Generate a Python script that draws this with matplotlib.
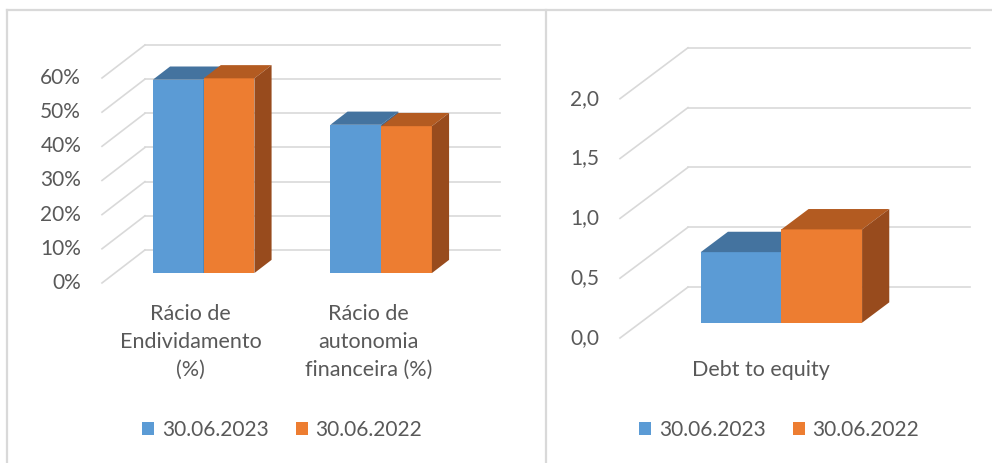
import matplotlib
matplotlib.use("Agg")
import matplotlib.pyplot as plt
from matplotlib.patches import Polygon, Patch
from matplotlib.lines import Line2D

plt.rcParams['font.family'] = ['Lato', 'DejaVu Sans']

# data
series_names = ["30.06.2023", "30.06.2022"]
cats_left = ["Rácio de\nEndividamento\n(%)", "Rácio de\nautonomia\nfinanceira (%)"]
left_2023 = [56.6, 43.4]
left_2022 = [57.0, 43.0]
ticks_left = [0, 10, 20, 30, 40, 50, 60]

cats_right = ["Debt to equity"]
right_2023 = [0.59]
right_2022 = [0.78]
ticks_right = [0.0, 0.5, 1.0, 1.5, 2.0]

front_cols = ["#5B9BD5", "#ED7D31"]
top_cols = ["#44739F", "#B35B21"]
side_cols = ["#3A6590", "#984B1D"]
grid_col = "#D9D9D9"
text_col = "#595959"
FS = 15


def draw_panel(ax, cats, series, ticks, fmt, dx, dy, lab_off):
    n = len(cats)
    # floor/back wall grid
    for v in ticks:
        ax.plot([0, dx], [v, v + dy], color=grid_col, lw=1.2, zorder=1)
        ax.plot([dx, n + dx], [v + dy, v + dy], color=grid_col, lw=1.2, zorder=1)
        ax.annotate(fmt(v), (0, v), xytext=(-15, 0), textcoords="offset points",
                    ha="right", va="center", fontsize=FS, color=text_col)
    w = 0.286
    fx, fy = 0.3 * dx, 0.3 * dy      # front of bars
    bx, by = 0.4 * dx, 0.4 * dy      # bar depth
    for i in range(n):
        for k, vals in enumerate(series):
            x0 = i + 0.5 - w + k * w + fx
            x1 = x0 + w
            h = vals[i]
            ax.bar(x0, h, width=w, bottom=fy, align="edge",
                   color=front_cols[k], lw=0, zorder=3 + k)
            top = fy + h
            ax.add_patch(Polygon([(x0, top), (x1, top), (x1 + bx, top + by), (x0 + bx, top + by)],
                                 closed=True, color=top_cols[k], lw=0, zorder=3 + k))
            ax.add_patch(Polygon([(x1, fy), (x1 + bx, fy + by), (x1 + bx, top + by), (x1, top)],
                                 closed=True, color=side_cols[k], lw=0, zorder=3 + k))
        ax.annotate(cats[i], (i + 0.5, 0), xytext=(0, lab_off), textcoords="offset points",
                    ha="center", va="top", fontsize=15.5, color=text_col, linespacing=1.5)
    ax.axis("off")


fig = plt.figure(figsize=(9.92, 4.63), dpi=100)
W, H = 992, 463

axl = fig.add_axes([8 / W, 0, 537 / W, 453 / H])
draw_panel(axl, cats_left, [left_2023, left_2022], ticks_left, lambda v: f"{v}%",
           0.242, 9.66, -15)
axl.set_xlim(-0.5296, 2.4958)
axl.set_ylim(-52.7, 79.9)

axr = fig.add_axes([547 / W, 0, 445 / W, 453 / H])
draw_panel(axr, cats_right, [right_2023, right_2022], ticks_right,
           lambda v: f"{v:.1f}".replace(".", ","), 0.241, 0.426, -16)
axr.set_xlim(-0.2589, 1.319)
axr.set_ylim(-1.045, 2.742)

# panel borders
for xs, ys in [([7 / W, 7 / W], [0, 1 - 10 / H]),
               ([7 / W, 1], [1 - 10 / H, 1 - 10 / H]),
               ([546 / W, 546 / W], [0, 1 - 10 / H])]:
    fig.add_artist(Line2D(xs, ys, color=grid_col, lw=1.6))

handles = [Patch(color=c, lw=0) for c in front_cols]
for cx in [282, 779]:
    fig.legend(handles, series_names, loc="center", bbox_to_anchor=(cx / W, 1 - 430 / H),
               ncol=2, frameon=False, fontsize=FS, labelcolor=text_col,
               handlelength=0.6, handleheight=0.6, handletextpad=0.35,
               columnspacing=1.3, borderpad=0)

fig.savefig("out.png", dpi=100, facecolor="white")
